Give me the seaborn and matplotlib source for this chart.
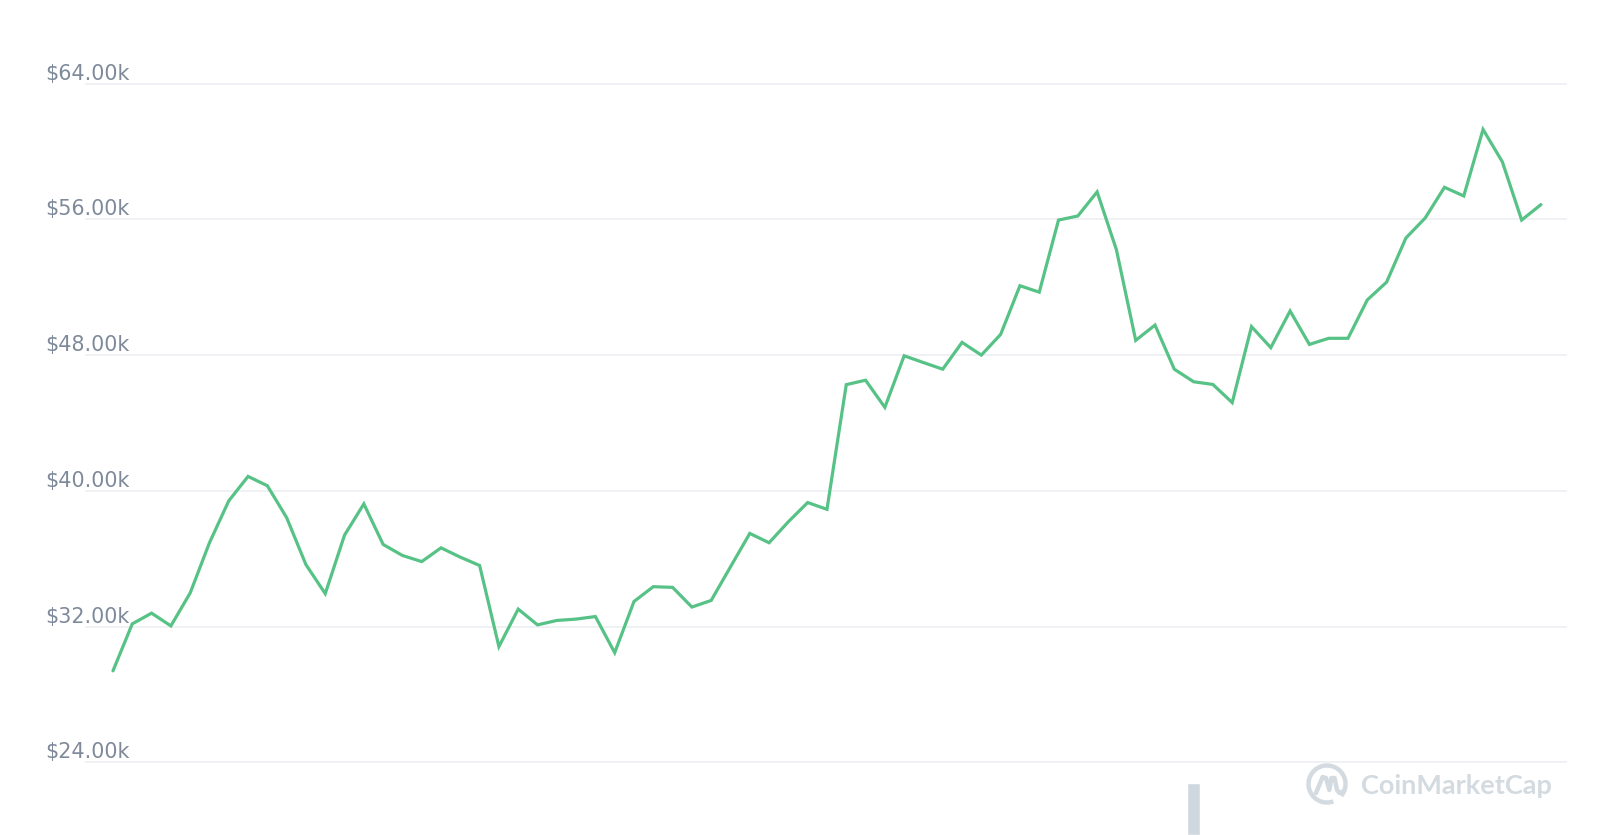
import matplotlib
matplotlib.use("Agg")
import matplotlib.pyplot as plt
from matplotlib.patches import Arc
import numpy as np
import pandas as pd
import seaborn as sns

# ---- data (USD) ----
prices = [29390, 32160, 32790, 32040, 33980, 36940, 39410, 40850, 40300, 38420,
          35650, 33940, 37390, 39230, 36840, 36190, 35830, 36640, 36090, 35600,
          30820, 33030, 32100, 32360, 32440, 32590, 30460, 33480, 34350, 34310,
          33150, 33540, 35520, 37490, 36940, 38180, 39310, 38910, 46260, 46520,
          44920, 47960, 47560, 47170, 48750, 48000, 49220, 52090, 51710, 55960,
          56200, 57620, 54210, 48870, 49770, 47170, 46430, 46270, 45200, 49680,
          48440, 50600, 48630, 48990, 48990, 51250, 52300, 54900, 56080, 57890,
          57380, 61300, 59390, 55960, 56870]
y_ticks = [24000, 32000, 40000, 48000, 56000, 64000]
y_tick_labels = ["$24.00k", "$32.00k", "$40.00k", "$48.00k", "$56.00k", "$64.00k"]
volume_index = [56]
volume_values = [1.0]
watermark = "CoinMarketCap"

df = pd.DataFrame({"step": np.arange(len(prices)), "price": prices})

sns.set_theme(style="white")
plt.rcParams["font.family"] = ["DejaVu Sans"]

W, H, DPI = 1600, 835, 100
fig = plt.figure(figsize=(W / DPI, H / DPI), dpi=DPI)
fig.patch.set_facecolor("white")

ax_l, ax_r = 85, 1567
ax = fig.add_axes([ax_l / W, 0, (ax_r - ax_l) / W, 1])
ax.set_facecolor("none")

sns.lineplot(data=df, x="step", y="price", ax=ax, color="#57C286",
             linewidth=2.3, solid_joinstyle="miter", zorder=3)

ax.set_xlim(-1.45, len(prices) - 1 + 1.35)
ax.set_ylim(19715, 68930)
ax.set_yticks(y_ticks)
ax.set_yticklabels([])
ax.tick_params(left=False, bottom=False, labelleft=False, labelbottom=False)
ax.set_xticks([])
ax.grid(axis="y", color="#EDEFF2", linewidth=1.2)
ax.grid(axis="x", visible=False)
for s in ax.spines.values():
    s.set_visible(False)
ax.set_xlabel("")
ax.set_ylabel("")

for v, lab in zip(y_ticks, y_tick_labels):
    ax.annotate(lab, xy=(45, v), xycoords=("figure pixels", "data"),
                xytext=(0, 4), textcoords="offset pixels",
                ha="left", va="baseline", fontsize=14.9, color="#7E8A9A",
                annotation_clip=False)

# volume bar (bottom strip)
vax = fig.add_axes([ax_l / W, 0, (ax_r - ax_l) / W, 52 / H], sharex=ax)
vax.set_facecolor("none")
sns.barplot(x=volume_index, y=volume_values, ax=vax, native_scale=True,
            color="#CFD8DF", width=0.66, saturation=1)
vax.set_ylim(0, 1.0)
vax.set_xlim(ax.get_xlim())
vax.axis("off")

# watermark logo + text
lax = fig.add_axes([1305 / W, (H - 806) / H, 44 / W, 44 / H])
lax.set_xlim(-1.1, 1.1)
lax.set_ylim(-1.1, 1.1)
lax.set_aspect("equal")
lax.axis("off")
lax.add_patch(Arc((0, 0), 1.85, 1.85, theta1=320, theta2=290,
                  color="#D3DBE1", linewidth=3.2))
mx = [-0.55, -0.22, -0.05, 0.12, 0.22, 0.38, 0.5, 0.62, 0.85]
my = [-0.45, 0.35, 0.3, -0.3, 0.3, 0.3, -0.3, -0.45, -0.35]
lax.plot(mx, my, color="#D3DBE1", linewidth=3.2, solid_capstyle="round",
         solid_joinstyle="round")

fig.text(1361 / W, (H - 786) / H, watermark, ha="left", va="center",
         fontsize=19.5, fontweight="bold", color="#D3DBE1",
         family=["Lato", "DejaVu Sans"])

fig.savefig("out.png", dpi=DPI, facecolor="white")
